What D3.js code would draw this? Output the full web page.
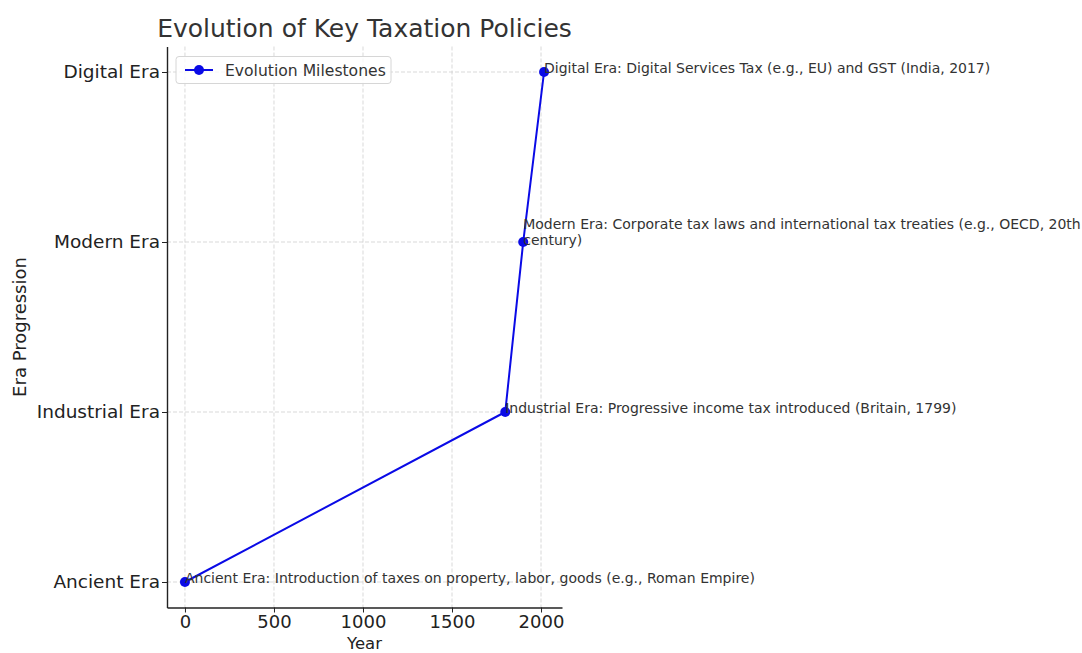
<!DOCTYPE html>
<html>
<head>
<meta charset="utf-8">
<script src="https://cdn.jsdelivr.net/npm/d3@7"></script>
<style>
  body { margin: 0; background: #fff; }
  text { font-family: "DejaVu Sans", sans-serif; }
</style>
</head>
<body>
<div id="chart"></div>
<script>
// data
var years = [0, 1799, 1900, 2017];
var eras = ["Ancient Era", "Industrial Era", "Modern Era", "Digital Era"];
var notes = [
  ["Ancient Era: Introduction of taxes on property, labor, goods (e.g., Roman Empire)"],
  ["Industrial Era: Progressive income tax introduced (Britain, 1799)"],
  ["Modern Era: Corporate tax laws and international tax treaties (e.g., OECD, 20th", "century)"],
  ["Digital Era: Digital Services Tax (e.g., EU) and GST (India, 2017)"]
];
var xTicks = [0, 500, 1000, 1500, 2000];

var svgWidth = 1082, svgHeight = 653;
var margin = { top: 46.5, right: 520, bottom: 45.5, left: 167 };
var width = svgWidth - margin.left - margin.right;
var height = svgHeight - margin.top - margin.bottom;

var svg = d3.select("#chart").append("svg")
  .attr("width", svgWidth)
  .attr("height", svgHeight);

var g = svg.append("g")
  .attr("transform", `translate(${margin.left}, ${margin.top})`);

// matplotlib style 5% padding
var xPad = (d3.max(years) - d3.min(years)) * 0.05;
var x = d3.scaleLinear()
  .domain([d3.min(years) - xPad, d3.max(years) + xPad])
  .range([0, width]);
var y = d3.scaleLinear()
  .domain([-0.15, eras.length - 1 + 0.15])
  .range([height, 0]);

// grid
g.append("g").selectAll("line").data(xTicks).enter().append("line")
  .attr("x1", d => x(d)).attr("x2", d => x(d))
  .attr("y1", 0).attr("y2", height)
  .attr("stroke", "#cfcfcf").attr("stroke-width", 0.8)
  .attr("stroke-dasharray", "4,2");
g.append("g").selectAll("line").data(eras).enter().append("line")
  .attr("x1", 0).attr("x2", width)
  .attr("y1", (d, i) => y(i)).attr("y2", (d, i) => y(i))
  .attr("stroke", "#cfcfcf").attr("stroke-width", 0.8)
  .attr("stroke-dasharray", "4,2");

// axes
var xAxis = g.append("g")
  .attr("transform", `translate(0, ${height})`)
  .call(d3.axisBottom(x).tickValues(xTicks).tickFormat(d3.format("d"))
    .tickSize(5).tickPadding(3).tickSizeOuter(0));
var yAxis = g.append("g")
  .call(d3.axisLeft(y).tickValues(d3.range(eras.length)).tickFormat(i => eras[i])
    .tickSize(5).tickPadding(2).tickSizeOuter(0));

[xAxis, yAxis].forEach(function(a) {
  a.select(".domain").attr("stroke", "#222").attr("stroke-width", 1.4);
  a.selectAll(".tick line").attr("stroke", "#222").attr("stroke-width", 1);
  a.selectAll(".tick text").attr("fill", "#222").style("font-size", "18.5px")
    .style("font-family", "DejaVu Sans");
});
xAxis.selectAll(".tick text").attr("dy", "0.68em").style("font-size", "18px");

// line + points
var line = d3.line().x(d => x(d)).y((d, i) => y(i));
g.append("path")
  .datum(years)
  .attr("d", line)
  .attr("fill", "none")
  .attr("stroke", "#0a0ae6")
  .attr("stroke-width", 2);

g.selectAll("circle.pt").data(years).enter().append("circle")
  .attr("class", "pt")
  .attr("cx", d => x(d))
  .attr("cy", (d, i) => y(i))
  .attr("r", 5)
  .attr("fill", "#0a0ae6");

// annotations
var ann = g.selectAll("text.note").data(notes).enter().append("text")
  .attr("class", "note")
  .attr("x", (d, i) => x(years[i]))
  .attr("y", (d, i) => y(i) + 1 - (d.length - 1) * 14)
  .attr("fill", "#333")
  .style("font-size", "14px");
ann.selectAll("tspan").data(d => d).enter().append("tspan")
  .attr("x", function() { return d3.select(this.parentNode).attr("x"); })
  .attr("dy", (d, i) => i === 0 ? 0 : 16)
  .text(d => d);

// legend
var leg = g.append("g").attr("transform", "translate(9, 10)");
leg.append("rect")
  .attr("width", 215).attr("height", 27).attr("rx", 3)
  .attr("fill", "#fff").attr("fill-opacity", 0.8)
  .attr("stroke", "#d6d6d6");
leg.append("line")
  .attr("x1", 9).attr("x2", 37).attr("y1", 13.5).attr("y2", 13.5)
  .attr("stroke", "#0a0ae6").attr("stroke-width", 2);
leg.append("circle").attr("cx", 23).attr("cy", 13.5).attr("r", 5).attr("fill", "#0a0ae6");
leg.append("text")
  .attr("x", 49).attr("y", 19)
  .attr("fill", "#333")
  .style("font-size", "15.6px")
  .text("Evolution Milestones");

// labels
svg.append("text")
  .attr("x", margin.left + width / 2).attr("y", 37)
  .attr("text-anchor", "middle")
  .attr("fill", "#333")
  .style("font-size", "25px")
  .text("Evolution of Key Taxation Policies");

svg.append("text")
  .attr("x", margin.left + width / 2).attr("y", 649)
  .attr("text-anchor", "middle")
  .attr("fill", "#222")
  .style("font-size", "16.5px")
  .text("Year");

svg.append("text")
  .attr("transform", `translate(26, ${margin.top + height / 2}) rotate(-90)`)
  .attr("text-anchor", "middle")
  .attr("fill", "#222")
  .style("font-size", "18px")
  .text("Era Progression");
</script>
</body>
</html>
